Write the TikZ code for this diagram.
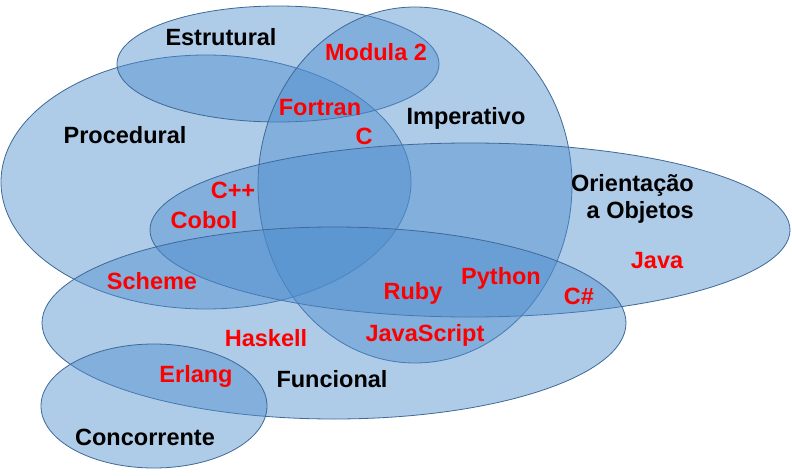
\documentclass[tikz,border=0pt]{standalone}
\usepackage{fontspec}
\setmainfont{Liberation Sans}
\definecolor{setfill}{RGB}{79,142,207}
\definecolor{setline}{RGB}{62,105,152}
\definecolor{langred}{RGB}{255,0,0}

\begin{document}
\begin{tikzpicture}[
    x=1pt, y=-1pt,
    every node/.style={font=\fontsize{23.5}{27}\selectfont\bfseries, inner sep=0pt, anchor=base},
    set/.style={draw=setline, fill=setfill, fill opacity=0.46, line width=0.8pt},
    paradigm/.style={text=black},
    lang/.style={text=langred}
]
\fill[white] (0,0) rectangle (792,476);
\useasboundingbox (0,0) rectangle (792,476);

% conjuntos (paradigmas)
\draw[set] (206,182) ellipse [x radius=205pt, y radius=127pt];   % procedural
\draw[set] (278,64) ellipse [x radius=161pt, y radius=58pt];     % estrutural
\draw[set] (415,185) ellipse [x radius=157pt, y radius=178pt];   % imperativo
\draw[set] (470,230) ellipse [x radius=320pt, y radius=87pt];    % objetos
\draw[set] (334,323) ellipse [x radius=292pt, y radius=96pt];    % funcional
\draw[set] (154,406) ellipse [x radius=113pt, y radius=62pt];    % concorrente

% nomes dos paradigmas
\node[paradigm] (estrutural) at (221,45.4) {Estrutural};
\node[paradigm] (procedural) at (125,143.4) {Procedural};
\node[paradigm] (imperativo) at (466,124.4) {Imperativo};
\node[paradigm, anchor=base east] (orientacao) at (694,191.4) {Orientação};
\node[paradigm, anchor=base east] (objetos) at (694,218.4) {a Objetos};
\node[paradigm] (funcional) at (332,387.4) {Funcional};
\node[paradigm] (concorrente) at (145,445.4) {Concorrente};

% linguagens
\node[lang] (modula) at (376,60.4) {Modula 2};
\node[lang] (fortran) at (320,115.4) {Fortran};
\node[lang] (c) at (364,144.4) {C};
\node[lang] (cpp) at (233,198.4) {C++};
\node[lang] (cobol) at (204,228.4) {Cobol};
\node[lang] (java) at (657,268.4) {Java};
\node[lang] (scheme) at (152,289.4) {Scheme};
\node[lang] (python) at (501,284.4) {Python};
\node[lang] (ruby) at (413,299.4) {Ruby};
\node[lang] (csharp) at (579,304.4) {C\#};
\node[lang] (javascript) at (425,341.4) {JavaScript};
\node[lang] (haskell) at (266,346.4) {Haskell};
\node[lang] (erlang) at (196,382.4) {Erlang};
\end{tikzpicture}
\end{document}
